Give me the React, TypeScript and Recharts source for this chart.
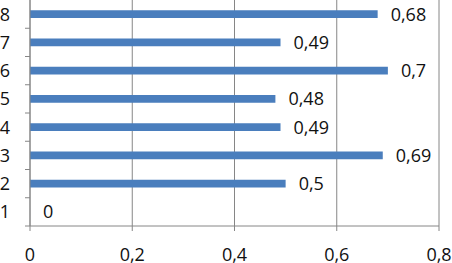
import { BarChart, Bar, XAxis, YAxis, CartesianGrid, LabelList } from "recharts";

const categories = ["1", "2", "3", "4", "5", "6", "7", "8"];
const values = [0, 0.5, 0.69, 0.49, 0.48, 0.7, 0.49, 0.68];
const xTicks = [0, 0.2, 0.4, 0.6, 0.8];

const data = categories.map((name, i) => ({ name, value: values[i] })).reverse();

const fmt = (v: number) => String(v).replace(".", ",");
const font = "'Open Sans', sans-serif";
const axisColor = "#868686";
const bandSize = 226 / categories.length;

function YTick(props: any) {
  const { x, y, payload } = props;
  return (
    <g>
      <line x1={x + 3} x2={x + 8} y1={y + bandSize / 2} y2={y + bandSize / 2} stroke={axisColor} />
      <text x={x - 12} y={y} dy="0.36em" textAnchor="end" fontSize={18} fill="#111" fontFamily={font}>
        {payload.value}
      </text>
    </g>
  );
}

export default function App() {
  return (
    <div style={{ position: "absolute", left: 0, top: 0, background: "#fff" }}>
      <BarChart
        width={452}
        height={263}
        data={data}
        layout="vertical"
        margin={{ top: 0, right: 13, bottom: 0, left: 0 }}
        barCategoryGap="64%"
      >
        <CartesianGrid horizontal={false} stroke={axisColor} strokeDasharray="" />
        <XAxis
          type="number"
          domain={[0, 0.8]}
          ticks={xTicks}
          tickFormatter={fmt}
          stroke={axisColor}
          tickSize={5}
          tickMargin={17}
          height={37}
          tick={{ fontSize: 18, fill: "#111", fontFamily: font }}
        />
        <YAxis
          type="category"
          dataKey="name"
          width={30}
          stroke={axisColor}
          tickLine={false}
          tick={<YTick />}
        />
        <Bar dataKey="value" fill="#4A7EBD" minPointSize={0.01} isAnimationActive={false}>
          <LabelList
            dataKey="value"
            position="right"
            offset={13}
            formatter={(v: any) => fmt(v)}
            style={{ fontSize: 18, fill: "#111", fontFamily: font }}
          />
        </Bar>
      </BarChart>
    </div>
  );
}
